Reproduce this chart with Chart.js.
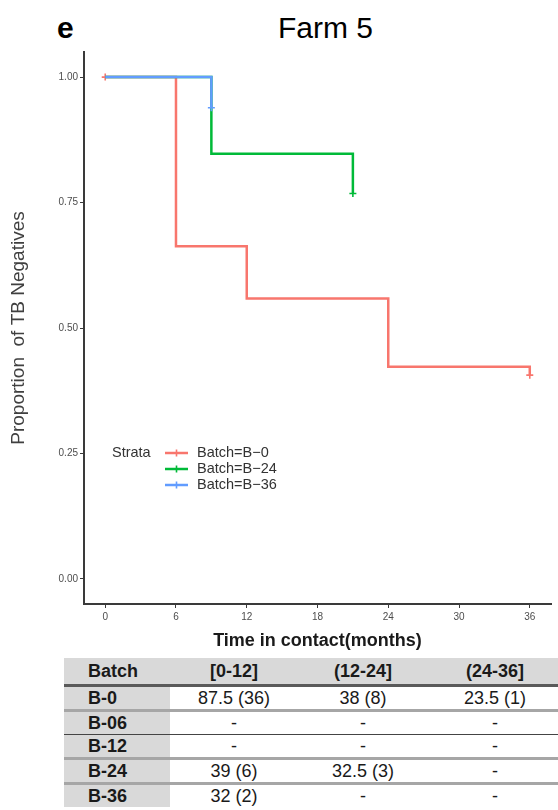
<!DOCTYPE html>
<html>
<head>
<meta charset="utf-8">
<title>Farm 5</title>
<script src="https://cdn.jsdelivr.net/npm/chart.js@4/dist/chart.umd.min.js"></script>
<style>
  html, body { margin:0; padding:0; background:#fff; }
  body { width:558px; height:810px; position:relative; overflow:hidden;
         font-family:'Liberation Sans', Arial, sans-serif; }
  #panel { position:absolute; left:57px; top:12px; font-size:30px; line-height:32px; font-weight:bold; color:#000; }
  #title { position:absolute; left:278px; top:12px; font-size:30px; line-height:32px; color:#000; }
  #plot  { position:absolute; left:0; top:0; width:558px; height:656px; }
  #tbl   { position:absolute; left:64px; top:658px; border-collapse:collapse; table-layout:fixed;
           font-size:18px; color:#1a1a1a; }
  #tbl td { padding:0; text-align:center; white-space:nowrap; line-height:22px; }
  #tbl td:first-child { text-align:left; padding-left:24px; font-weight:bold; background:#d9d9d9; }
  #tbl tr.head td { background:#d9d9d9; font-weight:bold; height:26px; line-height:26px; border-bottom:3px solid #5a5a5a; }
  #tbl tr.row td { height:22px; border-bottom:3px solid #a6a6a6; }
  #tbl tr.row.thin td { border-bottom:1px solid #444; }
  #tbl tr.row.last td { border-bottom:none; }
</style>
</head>
<body>
<div id="panel">e</div>
<div id="title">Farm 5</div>
<div id="plot"><canvas id="km"></canvas></div>
<table id="tbl"></table>

<script>
// ── Survival curves (months, proportion still TB negative) ───────

const b0Time    = [0, 6, 12, 24, 36];
const b0Surv    = [1.0, 0.663, 0.559, 0.423, 0.406];
const b0Censor  = [true, false, false, false, true];

const b24Time   = [0, 9, 21];
const b24Surv   = [1.0, 0.847, 0.768];
const b24Censor = [false, false, true];

const b36Time   = [0, 9];
const b36Surv   = [1.0, 0.939];
const b36Censor = [false, true];

const xTicks = [0, 6, 12, 18, 24, 30, 36];
const yTicks = [0, 0.25, 0.5, 0.75, 1];

// ── Median time table ────────────────────────────────────────────

const tableHead = ['Batch', '[0-12]', '(12-24]', '(24-36]'];
const tableRows = [
  ['B-0',  '87.5 (36)', '38 (8)',    '23.5 (1)'],
  ['B-06', '-',         '-',         '-'],
  ['B-12', '-',         '-',         '-'],
  ['B-24', '39 (6)',    '32.5 (3)',  '-'],
  ['B-36', '32 (2)',    '-',         '-'],
];

const font = "'Liberation Sans', Arial, sans-serif";
const pal = { b0:'#F8766D', b24:'#00BA38', b36:'#619CFF' };

function curve(label, color, times, surv, censor, order) {
  return {
    label,
    data: times.map((t, i) => ({ x:t, y:surv[i] })),
    borderColor: color,
    backgroundColor: color,
    borderWidth: 2.5,
    stepped: true,
    fill: false,
    pointStyle: 'cross',
    pointRadius: censor.map(c => c ? 3.5 : 0),
    pointHoverRadius: 0,
    pointBorderWidth: 1.6,
    order
  };
}

// legend drawn inside the plot, ggsurvplot style
const strataLegend = {
  id: 'strataLegend',
  afterDatasetsDraw(chart) {
    const ctx = chart.ctx;
    const x0 = 112, y0 = 453, gap = 16;
    ctx.save();
    ctx.font = `14.5px ${font}`;
    ctx.fillStyle = '#333';
    ctx.textBaseline = 'middle';
    ctx.fillText('Strata', x0, y0);
    chart.data.datasets.forEach((ds, i) => {
      const y = y0 + i * gap;
      ctx.strokeStyle = ds.borderColor;
      ctx.lineWidth = 2.5;
      ctx.beginPath(); ctx.moveTo(165, y); ctx.lineTo(188, y); ctx.stroke();
      ctx.lineWidth = 1.6;
      ctx.beginPath();
      ctx.moveTo(176.5, y - 3.5); ctx.lineTo(176.5, y + 3.5);
      ctx.stroke();
      ctx.fillStyle = '#333';
      ctx.fillText(ds.label, 197, y);
    });
    ctx.restore();
  }
};

const axisCommon = {
  border: { display:true, color:'#3a3a3a', width:2 },
  grid: { drawOnChartArea:false, drawTicks:true, tickLength:4, tickColor:'#3a3a3a', tickWidth:1 },
};

new Chart(document.getElementById('km'), {
  type: 'line',
  data: {
    datasets: [
      curve('Batch=B\u22120',  pal.b0,  b0Time,  b0Surv,  b0Censor,  3),
      curve('Batch=B\u221224', pal.b24, b24Time, b24Surv, b24Censor, 2),
      curve('Batch=B\u221236', pal.b36, b36Time, b36Surv, b36Censor, 1),
    ]
  },
  options: {
    responsive: true,
    maintainAspectRatio: false,
    animation: false,
    layout: { padding: { top:52, right:7, left:0, bottom:0 } },
    plugins: { legend:{ display:false }, tooltip:{ enabled:false } },
    scales: {
      x: {
        ...axisCommon,
        type: 'linear', min: -1.8, max: 37.8,
        afterBuildTicks: s => { s.ticks = xTicks.map(v => ({ value:v })); },
        afterFit: s => { s.height = 52; },
        ticks: { color:'#4d4d4d', font:{ family:font, size:10 }, padding:3, maxRotation:0 },
        title: { display:true, text:'Time in contact(months)', color:'#1a1a1a',
                 font:{ family:font, size:18, weight:'bold' }, padding:{ top:0, bottom:4 } }
      },
      y: {
        ...axisCommon,
        type: 'linear', min: -0.05, max: 1.05,
        afterBuildTicks: s => { s.ticks = yTicks.map(v => ({ value:v })); },
        afterFit: s => { s.width = 84; },
        ticks: { color:'#4d4d4d', font:{ family:font, size:10 }, padding:2,
                 callback: v => v.toFixed(2) },
        title: { display:true, text:'Proportion  of TB Negatives', color:'#404040',
                 font:{ family:font, size:19 }, padding:{ top:7, bottom:0 } }
      }
    }
  },
  plugins: [strataLegend]
});

// ── Table below the plot ─────────────────────────────────────────

const colW = [106, 128, 130, 134];
const tbl = document.getElementById('tbl');
const cg = document.createElement('colgroup');
colW.forEach(w => { const c = document.createElement('col'); c.style.width = w + 'px'; cg.appendChild(c); });
tbl.appendChild(cg);
tbl.style.width = colW.reduce((a, b) => a + b, 0) + 'px';

function addRow(cells, cls) {
  const tr = document.createElement('tr');
  tr.className = cls;
  cells.forEach(t => { const td = document.createElement('td'); td.textContent = t; tr.appendChild(td); });
  tbl.appendChild(tr);
}
addRow(tableHead, 'head');
tableRows.forEach((r, i) => {
  let cls = 'row';
  if (i === 1) cls += ' thin';
  if (i === tableRows.length - 1) cls += ' last';
  addRow(r, cls);
});
</script>
</body>
</html>
